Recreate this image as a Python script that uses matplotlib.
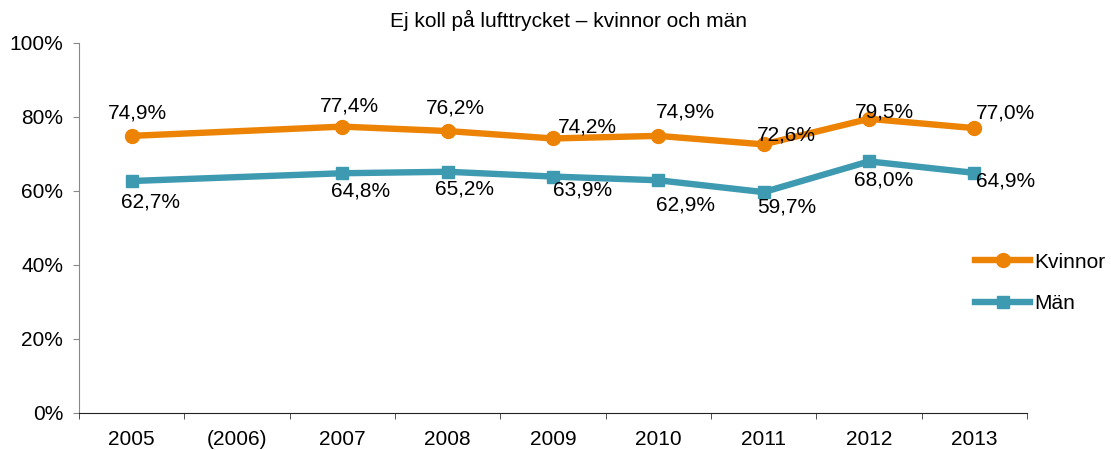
import matplotlib
matplotlib.use('Agg')
import matplotlib.pyplot as plt
import numpy as np

plt.rcParams['font.family'] = ['Liberation Sans', 'DejaVu Sans']

years = ['2005', '(2006)', '2007', '2008', '2009', '2010', '2011', '2012', '2013']
data_idx = [0, 2, 3, 4, 5, 6, 7, 8]  # 2006 saknas
kvinnor = [74.9, 77.4, 76.2, 74.2, 74.9, 72.6, 79.5, 77.0]
man = [62.7, 64.8, 65.2, 63.9, 62.9, 59.7, 68.0, 64.9]

# label offsets in pixels (dx right, dy down)
kv_off = [(6, -23), (7, -21), (8, -23), (34, -11), (27, -24), (23, -9), (15, -7), (31, -15)]
man_off = [(19, 21), (18, 18), (17, 17), (30, 13), (27, 25), (23, 15), (15, 19), (31, 8)]

orange = '#EC8304'
teal = '#3D9AB0'
W, H = 1111, 450
fs = 15

def fmt(v):
    return '{:.1f}%'.format(v).replace('.', ',')

fig = plt.figure(figsize=(W / 100, H / 100), dpi=100)
ax = fig.add_axes([79 / W, 1 - 413 / H, 948 / W, 370 / H])

ax.plot(data_idx, kvinnor, color=orange, lw=4.6, marker='o', ms=10, label='Kvinnor')
ax.plot(data_idx, man, color=teal, lw=4.6, marker='s', ms=9.3, label='Män')

for vals, offs in [(kvinnor, kv_off), (man, man_off)]:
    for i, v, (dx, dy) in zip(data_idx, vals, offs):
        ax.annotate(fmt(v), (i, v), xytext=(dx * 0.72, -dy * 0.72), textcoords='offset points',
                    ha='center', va='center', fontsize=fs)

ax.set_xlim(-0.5, len(years) - 0.5)
ax.set_ylim(0, 100)
ax.set_yticks(np.arange(0, 101, 20))
ax.set_yticklabels(['{}%'.format(t) for t in range(0, 101, 20)], fontsize=fs)
ax.set_xticks(range(len(years)))
ax.set_xticklabels(years, fontsize=fs)
ax.set_xticks(np.arange(-0.5, len(years)), minor=True)
ax.tick_params(axis='x', which='major', length=0, pad=12)
ax.tick_params(axis='x', which='minor', length=4, color='#333333', direction='out')
ax.tick_params(axis='y', length=4.3, color='#888888', direction='out', pad=7)
for s in ['top', 'right']:
    ax.spines[s].set_visible(False)
ax.spines['left'].set_color('#888888')
ax.spines['bottom'].set_color('#222222')

fig.text(569 / W, 1 - 20 / H, 'Ej koll på lufttrycket – kvinnor och män', fontsize=fs,
         ha='center', va='center')

ax.legend(loc='center left', bbox_to_anchor=(975 / W, 1 - 283 / H), bbox_transform=fig.transFigure,
          frameon=False, fontsize=fs, handlelength=2.64, labelspacing=1.1, handletextpad=0.19,
          borderpad=0, borderaxespad=0)

fig.savefig('out.png', dpi=100)
